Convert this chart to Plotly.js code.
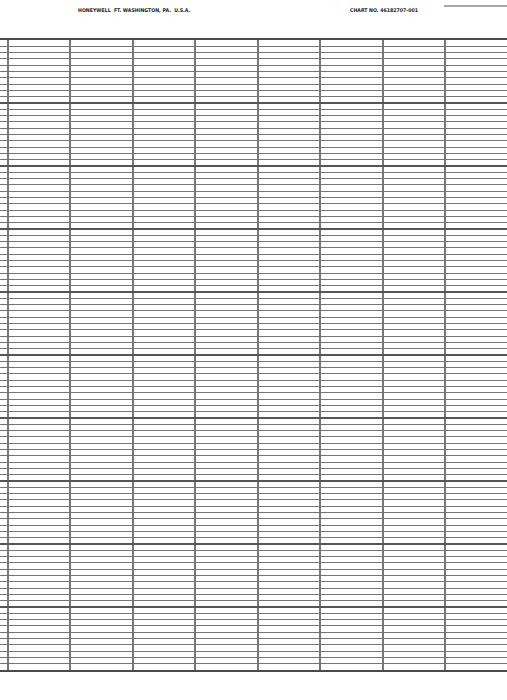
<!DOCTYPE html>
<html>
<head>
<meta charset="utf-8">
<script src="https://cdn.plot.ly/plotly-3.0.1.min.js"></script>
<style>
  html, body { margin: 0; padding: 0; background: #fff; }
  #chart { width: 507px; height: 700px; }
</style>
</head>
<body>
<div id="chart"></div>
<script>
// chart paper: time divisions across, 0-100 scale down
var timeDivisions = [0, 1, 2, 3, 4, 5, 6, 7, 8];
var majorRows = [0, 10, 20, 30, 40, 50, 60, 70, 80, 90, 100];
var minorRows = [
  1, 2, 3, 4, 5, 6, 7, 8, 9,
  11, 12, 13, 14, 15, 16, 17, 18, 19,
  21, 22, 23, 24, 25, 26, 27, 28, 29,
  31, 32, 33, 34, 35, 36, 37, 38, 39,
  41, 42, 43, 44, 45, 46, 47, 48, 49,
  51, 52, 53, 54, 55, 56, 57, 58, 59,
  61, 62, 63, 64, 65, 66, 67, 68, 69,
  71, 72, 73, 74, 75, 76, 77, 78, 79,
  81, 82, 83, 84, 85, 86, 87, 88, 89,
  91, 92, 93, 94, 95, 96, 97, 98, 99
];
var headerLeft = 'HONEYWELL\u00a0\u00a0FT. WASHINGTON,\u00a0PA.\u00a0\u00a0U.S.A.';
var headerRight = 'CHART NO. 46182707-001';

var pageW = 507, pageH = 700;
var marginTop = 40, marginBottom = 30;
var plotH = pageH - marginTop - marginBottom;
var colW = 62.5, firstCol = 7.7;

var trace = { x: [], y: [], type: 'scatter', mode: 'lines', hoverinfo: 'skip', showlegend: false };

var headFont = { family: 'Liberation Sans Narrow, DejaVu Sans Condensed, sans-serif', size: 5.2, color: '#222', weight: 700 };

var layout = {
  width: pageW,
  height: pageH,
  margin: { l: 0, r: 0, t: marginTop, b: marginBottom, pad: 0 },
  paper_bgcolor: '#fff',
  plot_bgcolor: '#fff',
  showlegend: false,
  xaxis: {
    range: [-firstCol / colW, (pageW - firstCol) / colW],
    tickmode: 'array',
    tickvals: timeDivisions,
    showticklabels: false,
    ticks: '',
    showgrid: true,
    gridcolor: '#777',
    gridwidth: 2,
    zeroline: false,
    showline: true,
    mirror: true,
    linecolor: '#4a4a4a',
    linewidth: 2,
    fixedrange: true
  },
  yaxis: {
    range: [0, 100],
    tickmode: 'array',
    tickvals: majorRows,
    showticklabels: false,
    ticks: '',
    showgrid: true,
    gridcolor: '#555',
    gridwidth: 2,
    zeroline: false,
    showline: false,
    fixedrange: true,
    minor: {
      tickmode: 'array',
      tickvals: minorRows,
      ticks: '',
      showgrid: true,
      gridcolor: '#767676',
      gridwidth: 1
    }
  },
  annotations: [
    {
      text: headerLeft, xref: 'paper', yref: 'paper',
      x: 134 / pageW, y: 1 + (marginTop - 10) / plotH,
      xanchor: 'center', yanchor: 'middle', showarrow: false, font: headFont
    },
    {
      text: headerRight, xref: 'paper', yref: 'paper',
      x: 384 / pageW, y: 1 + (marginTop - 10) / plotH,
      xanchor: 'center', yanchor: 'middle', showarrow: false, font: headFont
    }
  ],
  shapes: [
    {
      type: 'line', xref: 'paper', yref: 'paper',
      x0: 444 / pageW, x1: 1, y0: 1 + (marginTop - 6) / plotH, y1: 1 + (marginTop - 6) / plotH,
      line: { color: '#888', width: 1.5 }
    }
  ]
};

Plotly.newPlot('chart', [trace], layout, { displayModeBar: false, staticPlot: true });
</script>
</body>
</html>
